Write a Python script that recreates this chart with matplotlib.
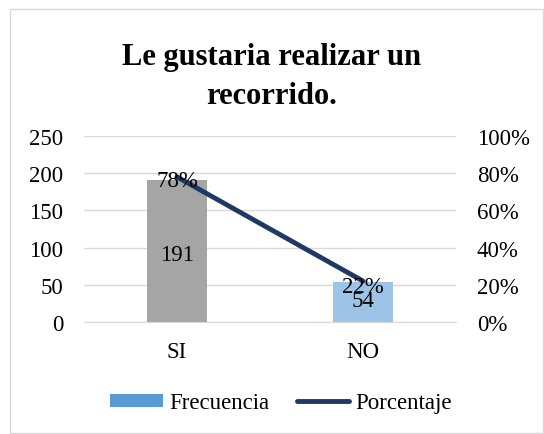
import matplotlib.pyplot as plt
from matplotlib.patches import Rectangle, Patch
from matplotlib.lines import Line2D
from matplotlib.ticker import PercentFormatter

categorias = ['SI', 'NO']
frecuencia = [191, 54]
porcentaje = [0.78, 0.22]
colores_barras = ['#A5A5A5', '#9DC3E6']

plt.rcParams['font.family'] = ['Liberation Serif', 'DejaVu Serif']
fs = 16.5

fig = plt.figure(figsize=(5.44, 4.35), dpi=100)
fig.patches.append(Rectangle((10/544, 1/435), 533/544, 424/435, transform=fig.transFigure,
                             fill=False, edgecolor='#D9D9D9', linewidth=1))

ax = fig.add_axes([84/544, 1-323/435, 372/544, 186/435])
x = range(len(categorias))
ax.bar(x, frecuencia, width=0.32, color=colores_barras, zorder=2)
ax.set_ylim(0, 250)
ax.set_xlim(-0.5, 1.5)
ax.set_yticks(range(0, 251, 50))
ax.set_xticks(list(x))
ax.set_xticklabels(categorias)
ax.grid(axis='y', color='#D9D9D9', linewidth=1, zorder=0)
for s in ax.spines.values():
    s.set_visible(False)
ax.spines['bottom'].set_visible(True)
ax.spines['bottom'].set_color('#D9D9D9')
ax.tick_params(length=0, labelsize=fs, pad=15)
ax.tick_params(axis='x', pad=14)

ax2 = ax.twinx()
ax2.plot(list(x), porcentaje, color='#203864', linewidth=3.5, zorder=3, solid_capstyle='round')
ax2.set_ylim(0, 1)
ax2.set_yticks([i/5 for i in range(6)])
ax2.yaxis.set_major_formatter(PercentFormatter(1.0, decimals=0))
for s in ax2.spines.values():
    s.set_visible(False)
ax2.tick_params(length=0, labelsize=fs, pad=15)

# pequeños ajustes verticales de las etiquetas (pixeles)
desplaz = [-4, 1]
for i, v in enumerate(frecuencia):
    ax.annotate(str(v), (i, v/2), xytext=(0, desplaz[i]), textcoords='offset pixels',
                ha='center', va='center', fontsize=fs, zorder=4)
desplaz_pct = [-4, -5]
for i, p in enumerate(porcentaje):
    ax2.annotate(f'{p:.0%}', (i, p), xytext=(0, desplaz_pct[i]), textcoords='offset pixels',
                 ha='center', va='center', fontsize=fs, zorder=4)

fig.text(0.5, 1-77/435, 'Le gustaria realizar un\nrecorrido.', ha='center', va='center',
         fontsize=22, fontweight='bold', linespacing=1.45)

handles = [Patch(facecolor='#5B9BD5'), Line2D([0], [0], color='#203864', linewidth=3.5, solid_capstyle='round')]
fig.legend(handles, ['Frecuencia', 'Porcentaje'], loc='center', bbox_to_anchor=(281/544, 1-404/435),
           ncol=2, frameon=False, fontsize=fs, handlelength=2.3, handleheight=0.5,
           handletextpad=0.25, columnspacing=1.2)

fig.savefig('out.png', dpi=100)
